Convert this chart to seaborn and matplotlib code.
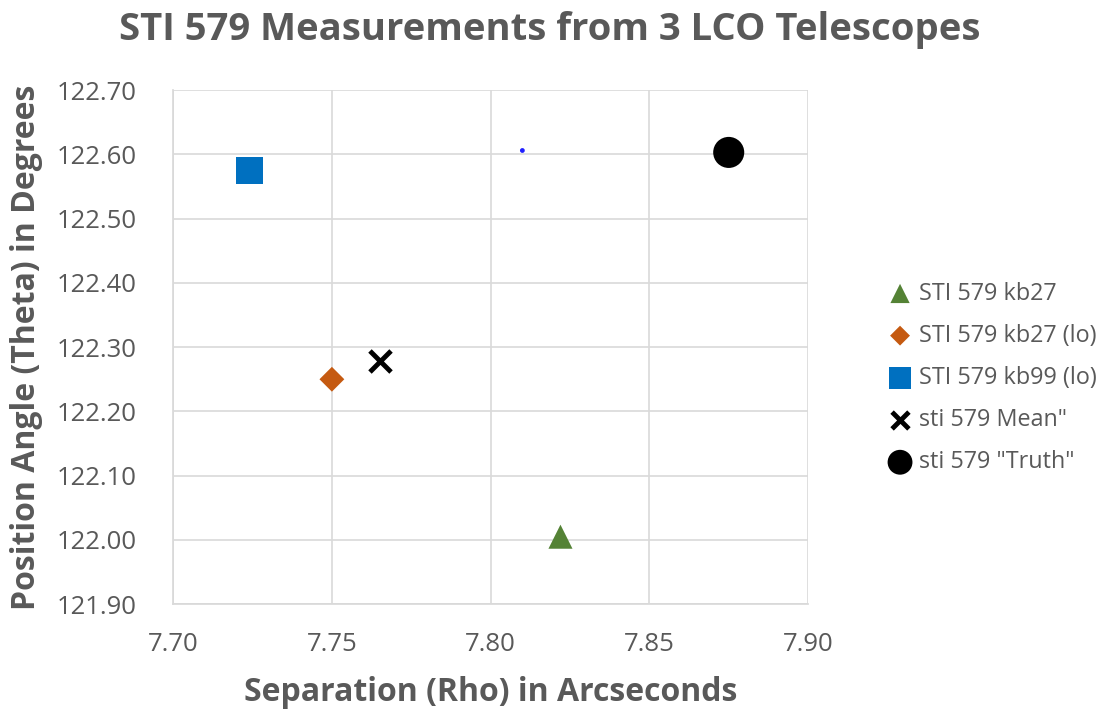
import matplotlib
matplotlib.use("Agg")
import matplotlib.pyplot as plt
import seaborn as sns
import pandas as pd

series = ["STI 579 kb27", "STI 579 kb27 (lo)", "STI 579 kb99 (lo)", 'sti 579 Mean"', 'sti 579 "Truth"']
rho = [7.822, 7.750, 7.724, 7.765, 7.875]
theta = [122.005, 122.250, 122.575, 122.278, 122.603]
extra_rho = [7.810]
extra_theta = [122.606]

colors = ["#548235", "#C55A11", "#0070C0", "#000000", "#000000"]
markers = ["^", "D", "s", "X", "o"]
sizes = [300, 160, 380, 230, 500]

sns.set_theme(style="whitegrid")
plt.rcParams['font.family'] = ['Open Sans', 'DejaVu Sans']

fig = plt.figure(figsize=(11.1, 7.15), dpi=100)
ax = fig.add_axes([0.156, 0.155, 0.572, 0.719])

df = pd.DataFrame({"rho": rho, "theta": theta, "series": series})
for s, c, m, sz in zip(series, colors, markers, sizes):
    sub = df[df.series == s]
    if m == "X":
        ax.scatter(sub.rho, sub.theta, marker="x", s=sz, c=c, linewidths=3.5, label=s, zorder=3)
    else:
        sns.scatterplot(data=sub, x="rho", y="theta", marker=m, s=sz, color=c,
                        edgecolor="none", ax=ax, label=s, zorder=3)

sns.scatterplot(x=extra_rho, y=extra_theta, color="#2020FF", s=12, edgecolor="none",
                ax=ax, legend=False, zorder=3)

ax.set_xlim(7.70, 7.90)
ax.set_ylim(121.90, 122.70)
ax.set_xticks([7.70, 7.75, 7.80, 7.85, 7.90])
ax.set_yticks([121.90 + 0.1 * i for i in range(9)])
ax.xaxis.set_major_formatter(matplotlib.ticker.FormatStrFormatter("%.2f"))
ax.yaxis.set_major_formatter(matplotlib.ticker.FormatStrFormatter("%.2f"))
ax.tick_params(axis="x", labelsize=18.5, colors="#595959", length=0, pad=20)
ax.tick_params(axis="y", labelsize=18.5, colors="#595959", length=0, pad=26)
ax.grid(True, color="#D9D9D9", linewidth=1.2)
for sp in ax.spines.values():
    sp.set_visible(False)
ax.spines["left"].set_visible(True)
ax.spines["bottom"].set_visible(True)
ax.spines["left"].set_color("#D9D9D9")
ax.spines["bottom"].set_color("#D9D9D9")
ax.set_facecolor("white")

ax.set_xlabel("Separation (Rho) in Arcseconds", fontsize=23, fontweight="bold", color="#595959", labelpad=14)
ax.set_ylabel("Position Angle (Theta) in Degrees", fontsize=23, fontweight="bold", color="#595959", labelpad=10)
fig.suptitle("STI 579 Measurements from 3 LCO Telescopes", fontsize=27.5, fontweight="bold",
             color="#595959", y=0.985, x=0.495)

handles, labels = ax.get_legend_handles_labels()
leg = ax.legend(handles, labels, loc="center left", bbox_to_anchor=(1.075, 0.44), frameon=False,
                fontsize=16.8, labelspacing=0.78, handletextpad=-0.2, markerscale=0.8,
                labelcolor="#595959")

fig.savefig("out.png", dpi=100, facecolor="white")
